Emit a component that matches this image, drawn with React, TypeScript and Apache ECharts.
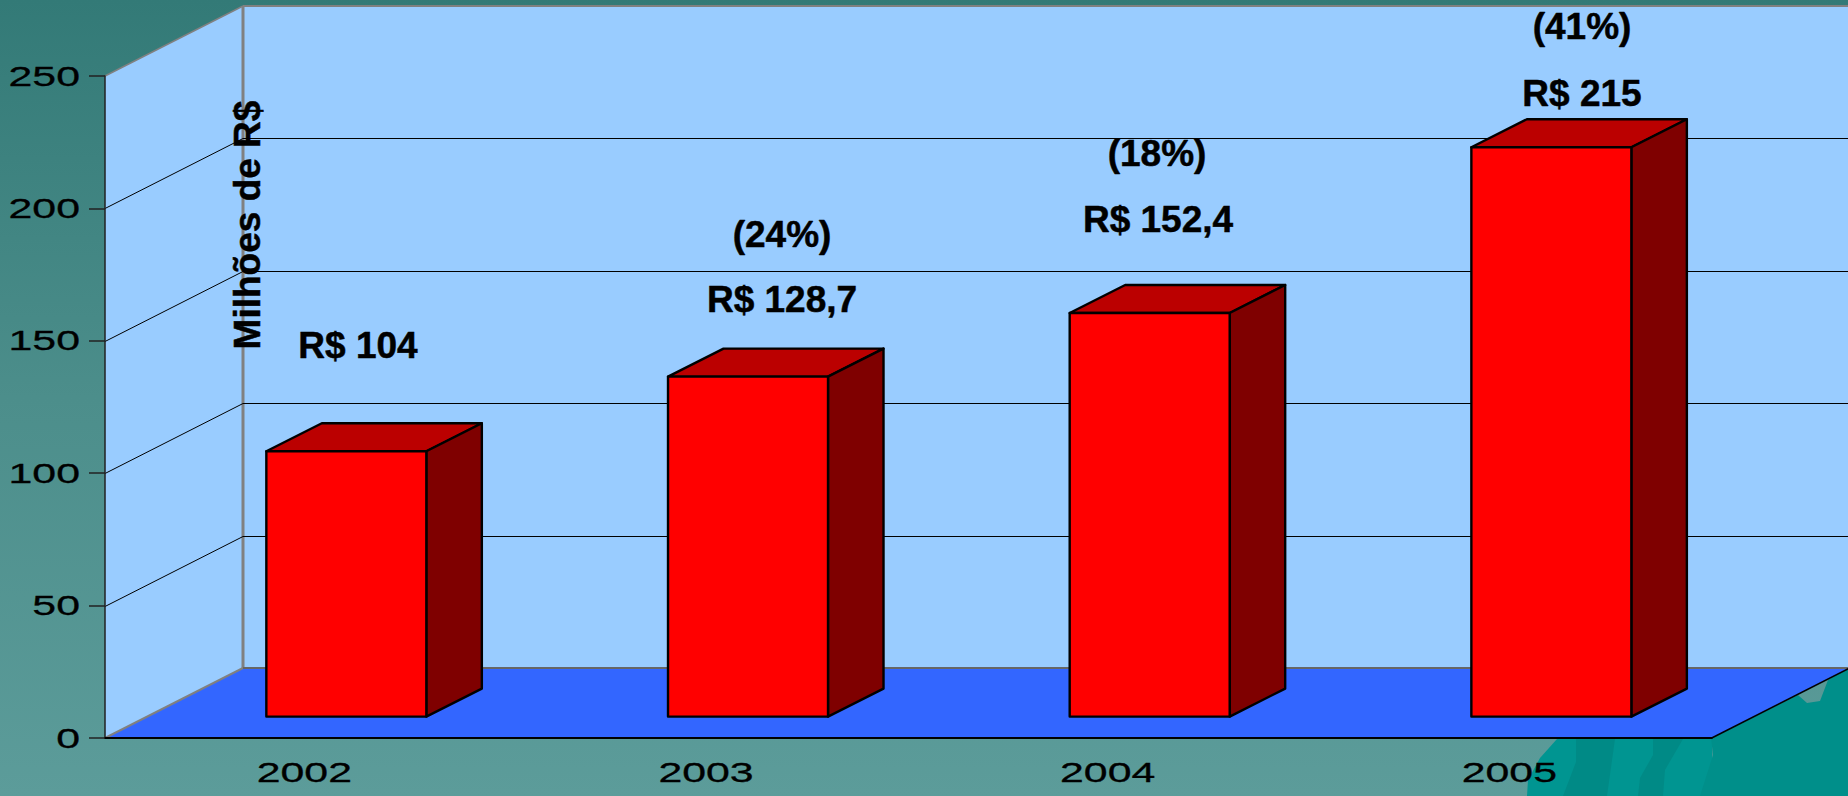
import React, { useEffect, useRef } from "react";
import * as echarts from "echarts";

const categories = ["2002", "2003", "2004", "2005"];
const barValues = [100.2, 128.4, 152.4, 215];
const valueTicks = [0, 50, 100, 150, 200, 250];
const gridValues = [50, 100, 150, 200];
const valueLabels = ["R$ 104", "R$ 128,7", "R$ 152,4", "R$ 215"];
const growthLabels = ["", "(24%)", "(18%)", "(41%)"];
const axisTitle = "Milhões de R$";

// layout only
const W = 1848, H = 796;
const GRID = { left: 105, right: 136.3, top: 76, bottom: 58 };
const WALL = { dx: 138, dy: -70 };
const BAR = { offX: 40.5, offY: -21.4, width: 160, dx: 55.5, dy: -28 };
const VALUE_POS = [[358, 345], [782, 299], [1158, 219], [1582, 93]];
const GROWTH_POS = [[0, 0], [782, 234], [1157, 153], [1582, 26]];

const teal = [[1527, 796], [1528, 780], [1540, 758], [1557, 739], [1712, 738], [1713, 796]];
const tealRight = [[1711, 738], [1798, 695], [1807, 703], [1820, 701], [1828, 680], [1848, 668], [1848, 796], [1700, 796], [1713, 755]];
const tealStripes = [
  [[1576, 739], [1615, 739], [1607, 796], [1563, 796], [1576, 762]],
  [[1653, 739], [1683, 739], [1665, 770], [1663, 796], [1638, 796], [1640, 778], [1653, 755]],
];

const wallSeries = (params: any, api: any) => {
  const c = params.coordSys;
  const x0 = c.x, x1 = c.x + c.width, yT = c.y, yB = c.y + c.height;
  const { dx, dy } = WALL;
  const poly = (points: number[][], style: any) => ({ type: "polygon", shape: { points }, style });
  const line = (a: number[], b: number[], stroke: string, lineWidth: number) => ({
    type: "line",
    shape: { x1: a[0], y1: a[1], x2: b[0], y2: b[1] },
    style: { stroke, lineWidth },
  });
  const wall = "#99ccff";
  return {
    type: "group",
    children: [
      poly([[x0 + dx, yT + dy], [W, yT + dy], [W, yB + dy], [x0 + dx, yB + dy]], { fill: wall }),
      poly([[x0, yT], [x0 + dx, yT + dy], [x0 + dx, yB + dy], [x0, yB]], { fill: wall }),
      poly([[x0, yB], [x1, yB], [x1 + dx, yB + dy], [x0 + dx, yB + dy]], { fill: "#3366ff" }),
      line([x0, yT], [x0 + dx, yT + dy], "#808080", 1.5),
      line([x0 + dx, yT + dy], [W, yT + dy], "#808080", 2),
      line([x0 + dx, yT + dy], [x0 + dx, yB + dy], "#808080", 3),
      line([x0, yB], [x0 + dx, yB + dy], "#808080", 2),
      line([x0 + dx, yB + dy], [W, yB + dy], "#666666", 2),
      line([x1, yB], [x1 + dx, yB + dy], "#000000", 1.5),
    ],
  };
};

const gridLineSeries = (params: any, api: any) => {
  const c = params.coordSys;
  const y = Math.round(api.coord([0, api.value(0)])[1]) + 0.5;
  const ax = c.x, bx = c.x + WALL.dx, by = y + WALL.dy;
  return {
    type: "polyline",
    shape: { points: [[ax, y], [bx, by], [W, by]] },
    style: { stroke: "#000000", lineWidth: 1, fill: "none" },
  };
};

const barSeries = (params: any, api: any) => {
  const i = api.value(0);
  const base = api.coord([i, 0]);
  const top = api.coord([i, api.value(1)]);
  const l = base[0] + BAR.offX - BAR.width / 2;
  const r = l + BAR.width;
  const b = base[1] + BAR.offY;
  const t = top[1] + BAR.offY;
  const { dx, dy } = BAR;
  const edge = { stroke: "#000000", lineWidth: 2.4, lineJoin: "round" };
  return {
    type: "group",
    children: [
      { type: "polygon", shape: { points: [[l, t], [l + dx, t + dy], [r + dx, t + dy], [r, t]] }, style: { fill: "#bb0000", ...edge } },
      { type: "polygon", shape: { points: [[r, t], [r + dx, t + dy], [r + dx, b + dy], [r, b]] }, style: { fill: "#7f0000", ...edge } },
      { type: "polygon", shape: { points: [[l, t], [r, t], [r, b], [l, b]] }, style: { fill: "#ff0000", ...edge } },
    ],
  };
};

const wideText = (text: string, x: number, y: number, align: string) => ({
  type: "text",
  x,
  y,
  scaleX: 1.53,
  style: { text, align, verticalAlign: "middle", fill: "#000000", stroke: "#000000", lineWidth: 0.3, font: '28px "Liberation Sans"' },
});

const yLabelSeries = (params: any, api: any) => {
  const y = api.coord([0, api.value(0)])[1];
  return wideText(String(api.value(0)), 80, y, "right");
};

const xLabelSeries = (params: any, api: any) => {
  const i = api.value(0);
  const x = api.coord([i, 0])[0];
  return wideText(categories[i], x - 1.5, 772, "center");
};

const boldText = (text: string, x: number, y: number) => ({
  type: "text",
  x,
  y,
  z: 20,
  style: { text, align: "center", verticalAlign: "middle", fill: "#000000", stroke: "#000000", lineWidth: 0.5, font: 'bold 37px "Liberation Sans"' },
});

export default function App() {
  const ref = useRef<HTMLDivElement>(null);
  useEffect(() => {
    document.body.style.margin = "0";
    document.body.style.overflow = "hidden";
    const chart = echarts.init(ref.current!, undefined, { renderer: "svg" });
    const poly = (points: number[][], fill: string) => ({ type: "polygon", z: 0, shape: { points }, style: { fill } });
    chart.setOption({
      animation: false,
      backgroundColor: {
        type: "linear", x: 0, y: 0, x2: 0, y2: 1,
        colorStops: [
          { offset: 0, color: "#337a77" },
          { offset: 0.5, color: "#4c8e8b" },
          { offset: 1, color: "#5c9c9a" },
        ],
      },
      grid: { ...GRID, containLabel: false },
      xAxis: {
        type: "category",
        data: categories,
        z: 6,
        axisLine: { lineStyle: { color: "#000000", width: 2 } },
        axisTick: { length: 11, lineStyle: { color: "#000000", width: 1 } },
        axisLabel: { show: false },
      },
      yAxis: {
        type: "value",
        min: 0,
        max: 250,
        interval: 50,
        z: 6,
        axisLine: { show: true, lineStyle: { color: "#222222", width: 1.5 } },
        axisTick: { show: true, length: 16, lineStyle: { color: "#222222", width: 1.5 } },
        axisLabel: { show: false },
        splitLine: { show: false },
      },
      graphic: [
        poly(teal, "#009591"),
        poly(tealRight, "#008f8a"),
        ...tealStripes.map((s) => poly(s, "#008a86")),
        {
          type: "text", x: 247, y: 225, rotation: Math.PI / 2, z: 20,
          style: { text: axisTitle, align: "center", verticalAlign: "middle", fill: "#000000", stroke: "#000000", lineWidth: 0.5, font: 'bold 37px "Liberation Sans"' },
        },
        ...valueLabels.map((t, i) => boldText(t, VALUE_POS[i][0], VALUE_POS[i][1])),
        ...growthLabels.flatMap((t, i) => (t ? [boldText(t, GROWTH_POS[i][0], GROWTH_POS[i][1])] : [])),
      ],
      series: [
        { type: "custom", z: 1, silent: true, clip: false, renderItem: wallSeries, data: [[0]] },
        { type: "custom", z: 2, silent: true, clip: false, renderItem: gridLineSeries, data: gridValues.map((v) => [v]), encode: { y: 0 } },
        { type: "custom", z: 3, silent: true, clip: false, renderItem: barSeries, data: barValues.map((v, i) => [i, v]), encode: { x: 0, y: 1 } },
        { type: "custom", z: 7, silent: true, clip: false, renderItem: yLabelSeries, data: valueTicks.map((v) => [v]), encode: { y: 0 } },
        { type: "custom", z: 7, silent: true, clip: false, renderItem: xLabelSeries, data: categories.map((_, i) => [i]), encode: { x: 0 } },
      ],
    });
    return () => chart.dispose();
  }, []);
  return <div ref={ref} style={{ width: W, height: H }} />;
}
